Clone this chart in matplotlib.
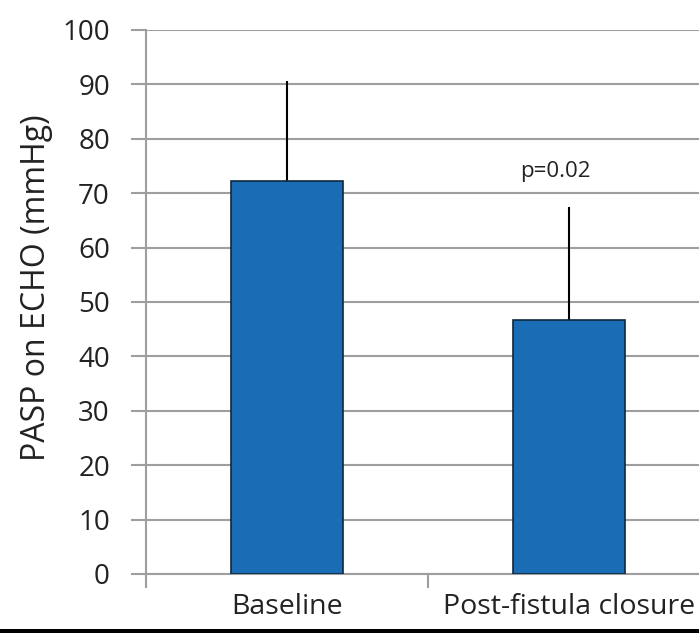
import matplotlib
matplotlib.use("Agg")
import matplotlib.pyplot as plt
from matplotlib.patches import Rectangle

categories = ["Baseline", "Post-fistula closure"]
means = [72.2, 46.7]
sd_upper = [18.4, 20.8]
yticks = [0, 10, 20, 30, 40, 50, 60, 70, 80, 90, 100]
p_text = "p=0.02"

plt.rcParams['font.family'] = ['Open Sans', 'DejaVu Sans']

W, H = 699, 633
fig = plt.figure(figsize=(W/100, H/100), dpi=100)
fig.patch.set_facecolor('white')
ax = fig.add_axes([146/W, (H-574)/H, 564/W, 544/H])

x = list(range(len(categories)))
ax.bar(x, means, width=0.4, color='#1a6db5', edgecolor='#10283f', linewidth=1.2, zorder=3)
ax.errorbar(x, means, yerr=[[0]*len(means), sd_upper], fmt='none', ecolor='black',
            elinewidth=1.5, capsize=0, zorder=2)

ax.set_xlim(-0.5, len(categories)-0.5)
ax.set_ylim(0, 100)
ax.set_yticks(yticks)
ax.set_yticklabels([str(t) for t in yticks], fontsize=20, color='#222222')
ax.yaxis.grid(True, color='#9e9e9e', linewidth=1.5, zorder=0)
ax.set_axisbelow(True)
ax.tick_params(axis='y', length=11, width=1.5, color='#9e9e9e', pad=15)

ax.set_xticks(x)
ax.set_xticklabels(categories, fontsize=20.5, color='#222222')
ax.tick_params(axis='x', which='major', length=0, pad=14)
ax.set_xticks([-0.5, 0.5, 1.5], minor=True)
ax.tick_params(axis='x', which='minor', length=10, width=1.5, color='#9e9e9e')
# nudge the long second label slightly left so it stays within the canvas, as in the reference
ax.get_xticklabels()[1].set_x(0.985)

for s in ['top', 'right']:
    ax.spines[s].set_visible(False)
ax.spines['left'].set_color('#9e9e9e')
ax.spines['left'].set_linewidth(1.5)
ax.spines['bottom'].set_color('#9e9e9e')
ax.spines['bottom'].set_linewidth(1.5)

ax.text(0.95, 73.9, p_text, ha='center', va='center', fontsize=16, color='#222222',
        bbox=dict(facecolor='white', edgecolor='none', alpha=0.5, pad=6), zorder=4)

ax.set_ylabel("PASP on ECHO (mmHg)", fontsize=23, color='#222222')
ax.yaxis.set_label_coords(-0.165, 0.526)

fig.patches.append(Rectangle((0, 0), 1, 4/H, transform=fig.transFigure,
                             facecolor='black', edgecolor='none', zorder=10))

fig.savefig("out.png", dpi=100)
